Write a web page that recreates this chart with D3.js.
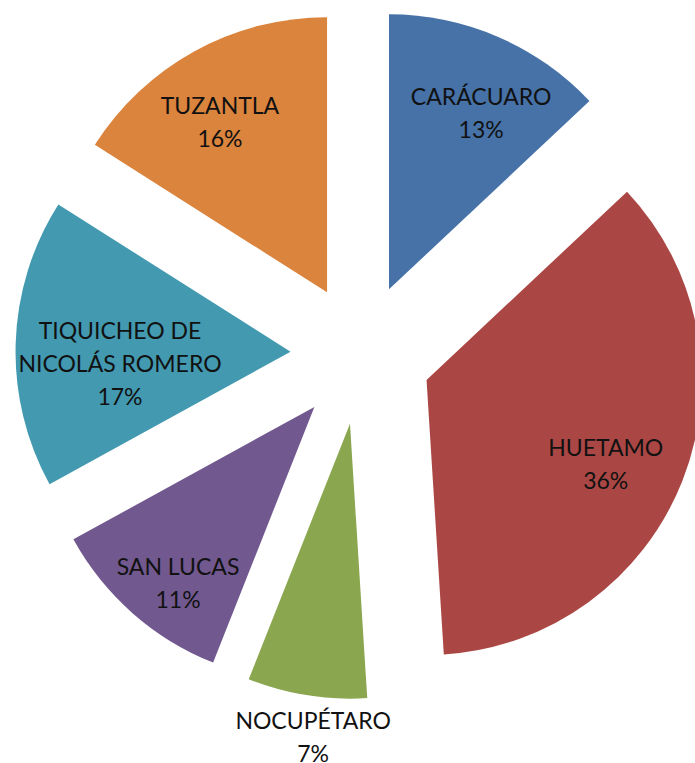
<!DOCTYPE html>
<html>
<head>
<meta charset="utf-8">
<script src="https://cdn.jsdelivr.net/npm/d3@7/dist/d3.min.js"></script>
<style>
  html, body { margin: 0; padding: 0; background: #fff; }
  svg { display: block; }
</style>
</head>
<body>
<svg id="chart" width="695" height="763"></svg>
<script>
// Municipalities and their share (percent)
const municipios = ["CARÁCUARO", "HUETAMO", "NOCUPÉTARO", "SAN LUCAS", "TIQUICHEO DE NICOLÁS ROMERO", "TUZANTLA"];
const porcentajes = [13, 36, 7, 11, 17, 16];
const colores = ["#4672A8", "#AA4744", "#8AA64F", "#71588F", "#4299B0", "#DB843D"];

// Layout
const W = 695, H = 763;
const cx = 361, cy = 354;      // pie centre
const R = 275;                 // slice radius
const explode = 70.5;          // every slice pulled out from the centre
const lineH = 33;
// label anchor relative to each slice tip: [radius, angular shift in degrees]
const labelPlace = {
  "CARÁCUARO": [199, 4.2],
  "HUETAMO": [198, 3.6],
  "NOCUPÉTARO": [315.5, -2.3],
  "SAN LUCAS": [223, -3.7],
  "TIQUICHEO DE NICOLÁS ROMERO": [171, -6],
  "TUZANTLA": [201, -3.4]
};
const labelLines = {
  "TIQUICHEO DE NICOLÁS ROMERO": ["TIQUICHEO DE", "NICOLÁS ROMERO"]
};

const data = municipios.map((m, i) => ({ name: m, value: porcentajes[i], color: colores[i] }));

const svg = d3.select("#chart");
const pie = d3.pie().sort(null).value(d => d.value);
const arc = d3.arc().innerRadius(0).outerRadius(R);
const arcs = pie(data);

const polar = (r, a) => [r * Math.sin(a), -r * Math.cos(a)];

const g = svg.append("g").attr("transform", `translate(${cx},${cy})`);

const slice = g.selectAll("g.slice")
  .data(arcs)
  .join("g")
  .attr("class", "slice")
  .attr("transform", d => {
    const mid = (d.startAngle + d.endAngle) / 2;
    const [x, y] = polar(explode, mid);
    return `translate(${x},${y})`;
  });

slice.append("path")
  .attr("d", arc)
  .attr("fill", d => d.data.color);

slice.each(function(d) {
  const mid = (d.startAngle + d.endAngle) / 2;
  const [r, shift] = labelPlace[d.data.name];
  const [lx, ly] = polar(r, mid + shift * Math.PI / 180);
  const lines = (labelLines[d.data.name] || [d.data.name]).concat([d.data.value + "%"]);
  const t = d3.select(this).append("text")
    .attr("text-anchor", "middle")
    .attr("font-family", "Lato, 'Open Sans', sans-serif")
    .attr("font-size", 23)
    .attr("fill", "#111");
  const y0 = ly - (lines.length - 1) * lineH / 2;
  lines.forEach((s, i) => {
    t.append("tspan")
      .attr("x", lx)
      .attr("y", y0 + i * lineH)
      .attr("dy", "0.35em")
      .text(s);
  });
});
</script>
</body>
</html>
